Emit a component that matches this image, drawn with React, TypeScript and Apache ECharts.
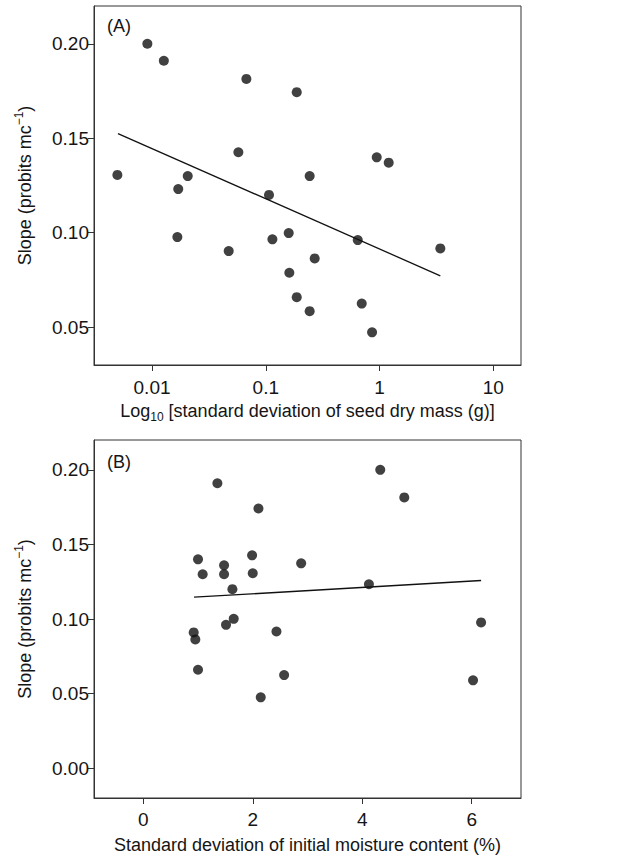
import React, { useEffect, useRef } from "react";
import * as echarts from "echarts";

// Panel A: standard deviation of seed dry mass (g) vs slope
const massSD = [0.00496, 0.0091, 0.0127, 0.017, 0.0206, 0.0167, 0.0472, 0.0574, 0.0675, 0.1067, 0.1143, 0.159, 0.161, 0.187, 0.187, 0.243, 0.243, 0.269, 0.643, 0.697, 0.859, 0.944, 1.203, 3.42];
const slopeA = [0.1306, 0.2, 0.191, 0.1231, 0.13, 0.0977, 0.0903, 0.1426, 0.1814, 0.12, 0.0965, 0.0998, 0.0788, 0.1744, 0.0659, 0.13, 0.0585, 0.0864, 0.0961, 0.0625, 0.0473, 0.1399, 0.1371, 0.0917];
const fitAx = [0.00502, 3.42];
const fitAy = [0.1525, 0.0772];

// Panel B: standard deviation of initial moisture content (%) vs slope
const moistSD = [1.354, 4.329, 4.768, 2.104, 1.0, 1.988, 1.476, 2.884, 1.085, 1.476, 2.0, 1.628, 4.122, 1.652, 1.512, 0.921, 0.951, 2.433, 1.0, 2.573, 2.146, 6.024, 6.171];
const slopeB = [0.191, 0.2, 0.1815, 0.1741, 0.14, 0.1427, 0.136, 0.1373, 0.13, 0.13, 0.1307, 0.12, 0.1233, 0.1001, 0.0961, 0.091, 0.0863, 0.0916, 0.066, 0.0624, 0.0475, 0.0589, 0.0977];
const fitBx = [0.927, 6.171];
const fitBy = [0.1146, 0.1258];

const xTicksA = [0.01, 0.1, 1, 10];
const xTickLabelsA = ["0.01", "0.1", "1", "10"];
const yTicksA = [0.05, 0.1, 0.15, 0.2];
const xTicksB = [0, 2, 4, 6];
const yTicksB = [0, 0.05, 0.1, 0.15, 0.2];

const FONT = "Liberation Sans, Arial, Helvetica, sans-serif";
const TXT = "#151515";
const INK = "#111";

export default function App() {
  const ref = useRef<HTMLDivElement>(null);
  useEffect(() => {
    if (!ref.current) return;
    const chart = echarts.init(ref.current, null, { renderer: "svg" });
    const lg = (v: number) => Math.log10(v);
    const tickLabel = { color: TXT, fontSize: 19, fontFamily: FONT };
    const yName = "{a|Slope (probits mc}{sup|−1}{a|)}";
    const richName = {
      a: { fontSize: 18, fontFamily: FONT, color: TXT, lineHeight: 24 },
      sup: { fontSize: 12, fontFamily: FONT, color: TXT, lineHeight: 12, verticalAlign: "top" },
      sub: { fontSize: 12, fontFamily: FONT, color: TXT, lineHeight: 12, verticalAlign: "bottom" },
    };
    const axisCommon = {
      axisLine: { show: true, onZero: false, lineStyle: { color: "#333", width: 1 } },
      axisTick: { show: true, inside: false, length: 6, lineStyle: { color: "#333", width: 1 } },
      splitLine: { show: false },
    };
    chart.setOption({
      animation: false,
      backgroundColor: "#fff",
      textStyle: { fontFamily: FONT },
      grid: [
        { left: 94, top: 6, width: 427, height: 359, show: true, borderColor: "#333", borderWidth: 1, backgroundColor: "transparent" },
        { left: 94, top: 440, width: 427, height: 358, show: true, borderColor: "#333", borderWidth: 1, backgroundColor: "transparent" },
      ],
      xAxis: [
        {
          type: "value",
          gridIndex: 0,
          min: -2.51,
          max: 1.243,
          ...axisCommon,
          axisTick: { ...axisCommon.axisTick, customValues: xTicksA.map(lg) },
          axisLabel: {
            ...tickLabel,
            margin: 13,
            customValues: xTicksA.map(lg),
            formatter: (v: number) => {
              const i = xTicksA.findIndex((t) => Math.abs(lg(t) - v) < 1e-6);
              return i >= 0 ? xTickLabelsA[i] : "";
            },
          },
          name: "{a|Log}{sub|10}{a| [standard deviation of seed dry mass (g)]}",
          nameLocation: "middle",
          nameGap: 34,
          nameTextStyle: { rich: richName },
        },
        {
          type: "value",
          gridIndex: 1,
          min: -0.9,
          max: 6.9,
          ...axisCommon,
          axisTick: { ...axisCommon.axisTick, customValues: xTicksB },
          axisLabel: { ...tickLabel, margin: 12, customValues: xTicksB, formatter: (v: number) => String(v) },
          name: "Standard deviation of initial moisture content (%)",
          nameLocation: "middle",
          nameGap: 38,
          nameTextStyle: { color: TXT, fontSize: 18, fontFamily: FONT },
        },
      ],
      yAxis: [
        {
          type: "value",
          gridIndex: 0,
          min: 0.03,
          max: 0.22,
          ...axisCommon,
          axisTick: { ...axisCommon.axisTick, customValues: yTicksA },
          axisLabel: { ...tickLabel, margin: 5, customValues: yTicksA, formatter: (v: number) => v.toFixed(2) },
          name: yName,
          nameLocation: "middle",
          nameGap: 57,
          nameTextStyle: { rich: richName },
        },
        {
          type: "value",
          gridIndex: 1,
          min: -0.02,
          max: 0.22,
          ...axisCommon,
          axisTick: { ...axisCommon.axisTick, customValues: yTicksB },
          axisLabel: { ...tickLabel, margin: 5, customValues: yTicksB, formatter: (v: number) => v.toFixed(2) },
          name: yName,
          nameLocation: "middle",
          nameGap: 57,
          nameTextStyle: { rich: richName },
        },
      ],
      graphic: [
        { type: "text", left: 107, top: 17, style: { text: "(A)", fontSize: 18, fontFamily: FONT, fill: TXT } },
        { type: "text", left: 107, top: 453, style: { text: "(B)", fontSize: 18, fontFamily: FONT, fill: TXT } },
      ],
      series: [
        {
          type: "line",
          xAxisIndex: 0,
          yAxisIndex: 0,
          data: fitAx.map((x, i) => [lg(x), fitAy[i]]),
          symbol: "none",
          lineStyle: { color: INK, width: 1.3 },
          z: 2,
        },
        {
          type: "scatter",
          xAxisIndex: 0,
          yAxisIndex: 0,
          data: massSD.map((x, i) => [lg(x), slopeA[i]]),
          symbol: "circle",
          symbolSize: 10,
          itemStyle: { color: INK },
          z: 3,
        },
        {
          type: "line",
          xAxisIndex: 1,
          yAxisIndex: 1,
          data: fitBx.map((x, i) => [x, fitBy[i]]),
          symbol: "none",
          lineStyle: { color: INK, width: 1.3 },
          z: 2,
        },
        {
          type: "scatter",
          xAxisIndex: 1,
          yAxisIndex: 1,
          data: moistSD.map((x, i) => [x, slopeB[i]]),
          symbol: "circle",
          symbolSize: 10,
          itemStyle: { color: INK },
          z: 3,
        },
      ],
    });
    return () => chart.dispose();
  }, []);
  return <div ref={ref} style={{ position: "absolute", left: 0, top: 0, width: 627, height: 857 }} />;
}
